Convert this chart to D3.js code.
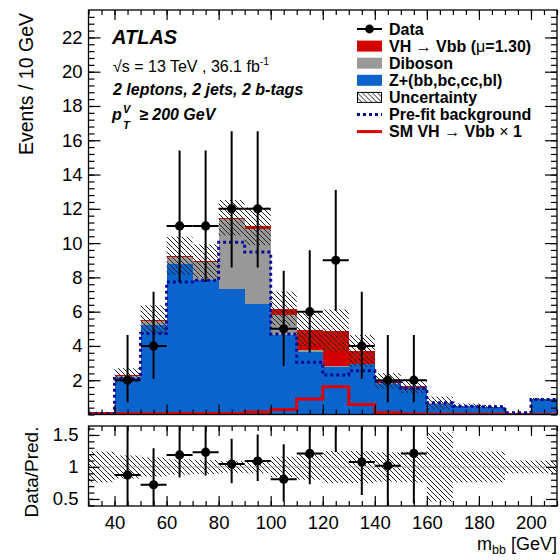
<!DOCTYPE html>
<html>
<head>
<meta charset="utf-8">
<script src="https://cdn.jsdelivr.net/npm/d3@7"></script>
<style>
  body { margin: 0; background: #fff; }
  svg { font-family: "Liberation Sans", Arial, Helvetica, sans-serif; }
</style>
</head>
<body>
<div id="chart"></div>
<script>
// bin lower edges (10 GeV bins)
const binLow = [30, 40, 50, 60, 70, 80, 90, 100, 110, 120, 130, 140, 150, 160, 170, 180, 190, 200];
// post-fit stack components
const zjets   = [0.05, 2.15, 5.25, 8.77, 7.87, 7.35, 6.45, 4.62, 3.65, 2.78, 2.95, 1.80, 1.58, 0.64, 0.50, 0.45, 0.10, 0.88];
const diboson = [0.02, 0.08, 0.22, 0.42, 1.00, 4.05, 4.35, 1.18, 0.13, 0.05, 0.02, 0.03, 0.03, 0.01, 0.00, 0.00, 0.00, 0.00];
const signal  = [0.06, 0.06, 0.07, 0.07, 0.07, 0.08, 0.18, 0.38, 1.17, 2.07, 0.74, 0.13, 0.04, 0.03, 0.02, 0.01, 0.00, 0.00];
// SM VH -> Vbb x 1 (line) and pre-fit background (dotted)
const smVH    = [0.05, 0.05, 0.05, 0.06, 0.06, 0.06, 0.15, 0.29, 0.90, 1.62, 0.58, 0.10, 0.03, 0.02, 0.02, 0.01, 0.00, 0.00];
const prefit  = [0.05, 2.10, 4.72, 7.73, 7.83, 10.05, 9.48, 4.70, 3.05, 2.30, 2.55, 1.90, 1.52, 0.68, 0.48, 0.45, 0.10, 0.88];
// relative uncertainty of the post-fit prediction
const relUnc  = [0.24, 0.18, 0.15, 0.12, 0.11, 0.09, 0.10, 0.16, 0.20, 0.25, 0.25, 0.23, 0.24, 0.54, 0.24, 0.24, 0.10, 0.10];

// data points
const dataX    = [45, 55, 65, 75, 85, 95, 105, 115, 125, 135, 145, 155];
const dataN    = [2, 4, 11, 11, 12, 12, 5, 6, 9, 4, 2, 2];
const dataLow  = [0.71, 2.08, 7.73, 7.73, 8.58, 8.58, 2.84, 3.62, 6.05, 2.08, 0.71, 0.71];
const dataHigh = [4.64, 7.16, 15.40, 15.40, 16.53, 16.53, 8.38, 9.58, 13.10, 7.16, 4.64, 4.64];

const xLabelTicks = [40, 60, 80, 100, 120, 140, 160, 180, 200];
const yMainTicks  = [2, 4, 6, 8, 10, 12, 14, 16, 18, 20, 22];
const yRatioTicks = [0.5, 1, 1.5];

const binWidth = 10;
const width = 560, height = 560;
const frame = { left: 88.5, right: 557 };
const mainPanel = { top: 10, bottom: 414.5 };
const ratioPanel = { top: 426, bottom: 506 };

const colors = {
    zjets: "#0a64cc",
    diboson: "#999999",
    signal: "#d40000",
    prefit: "#0a0a96",
    sm: "#e00000"
};

const svg = d3.select("#chart").append("svg")
    .attr("width", width)
    .attr("height", height);

const defs = svg.append("defs");
defs.append("pattern")
    .attr("id", "hatch")
    .attr("patternUnits", "userSpaceOnUse")
    .attr("width", 5)
    .attr("height", 5)
    .append("path")
    .attr("d", "M0,0 L5,5 M-1,4 L1,6 M4,-1 L6,1")
    .attr("stroke", "#222")
    .attr("stroke-width", 1);

defs.append("clipPath").attr("id", "clipMain")
    .append("rect")
    .attr("x", frame.left).attr("y", mainPanel.top)
    .attr("width", frame.right - frame.left).attr("height", mainPanel.bottom - mainPanel.top);
defs.append("clipPath").attr("id", "clipRatio")
    .append("rect")
    .attr("x", frame.left).attr("y", ratioPanel.top)
    .attr("width", frame.right - frame.left).attr("height", ratioPanel.bottom - ratioPanel.top);

const x = d3.scaleLinear().domain([30, 210]).range([frame.left, frame.right]);
const y = d3.scaleLinear().domain([0, 23.6]).range([mainPanel.bottom, mainPanel.top]);
const yR = d3.scaleLinear().domain([0.39, 1.64]).range([ratioPanel.bottom, ratioPanel.top]);

const bins = binLow.map((lo, i) => ({
    lo: lo,
    zjets: zjets[i],
    diboson: diboson[i],
    signal: signal[i],
    sm: smVH[i],
    prefit: prefit[i],
    rel: relUnc[i]
}));
bins.forEach(b => { b.total = b.zjets + b.diboson + b.signal; });

// ---- main panel ----
const main = svg.append("g").attr("clip-path", "url(#clipMain)");

const stack = d3.stack().keys(["zjets", "diboson", "signal"]);
const layers = stack(bins);

main.selectAll("g.layer")
    .data(layers)
    .enter()
    .append("g")
    .attr("class", "layer")
    .attr("fill", d => colors[d.key])
    .selectAll("rect")
    .data(d => d)
    .enter()
    .append("rect")
    .attr("shape-rendering", "crispEdges")
    .attr("x", d => x(d.data.lo))
    .attr("width", d => x(d.data.lo + binWidth) - x(d.data.lo))
    .attr("y", d => y(d[1]))
    .attr("height", d => Math.max(0, y(d[0]) - y(d[1])));

// uncertainty band
main.selectAll("rect.unc")
    .data(bins)
    .enter()
    .append("rect")
    .attr("class", "unc")
    .attr("x", d => x(d.lo))
    .attr("width", d => x(d.lo + binWidth) - x(d.lo))
    .attr("y", d => y(d.total * (1 + d.rel)))
    .attr("height", d => y(d.total * (1 - d.rel)) - y(d.total * (1 + d.rel)))
    .attr("fill", "url(#hatch)");

const stepLine = key => d3.line()
    .x(d => x(d.lo))
    .y(d => y(d[key]))
    .curve(d3.curveStepAfter);

const withEnd = bins.concat([Object.assign({}, bins[bins.length - 1], { lo: 210 })]);

main.append("path")
    .datum(withEnd)
    .attr("d", stepLine("sm"))
    .attr("fill", "none")
    .attr("stroke", colors.sm)
    .attr("stroke-width", 3);

main.append("path")
    .datum(withEnd)
    .attr("d", stepLine("prefit"))
    .attr("fill", "none")
    .attr("stroke", colors.prefit)
    .attr("stroke-width", 3)
    .attr("stroke-dasharray", "3,3");

const points = dataX.map((cx, i) => ({ x: cx, n: dataN[i], lo: dataLow[i], hi: dataHigh[i] }));

function drawPoints(g, pts, yScale, val, lo, hi) {
    const p = g.selectAll("g.pt").data(pts).enter().append("g").attr("class", "pt");
    p.append("line")
        .attr("x1", d => x(d.x)).attr("x2", d => x(d.x))
        .attr("y1", d => yScale(lo(d))).attr("y2", d => yScale(hi(d)))
        .attr("stroke", "#000").attr("stroke-width", 2);
    p.append("line")
        .attr("x1", d => x(d.x - binWidth / 2)).attr("x2", d => x(d.x + binWidth / 2))
        .attr("y1", d => yScale(val(d))).attr("y2", d => yScale(val(d)))
        .attr("stroke", "#000").attr("stroke-width", 2);
    p.append("circle")
        .attr("cx", d => x(d.x)).attr("cy", d => yScale(val(d)))
        .attr("r", 4.6).attr("fill", "#000");
}
drawPoints(main, points, y, d => d.n, d => d.lo, d => d.hi);

// ---- ratio panel ----
const ratio = svg.append("g").attr("clip-path", "url(#clipRatio)");

ratio.selectAll("rect.unc")
    .data(bins)
    .enter()
    .append("rect")
    .attr("x", d => x(d.lo))
    .attr("width", d => x(d.lo + binWidth) - x(d.lo))
    .attr("y", d => yR(1 + d.rel))
    .attr("height", d => yR(1 - d.rel) - yR(1 + d.rel))
    .attr("fill", "url(#hatch)");

ratio.append("line")
    .attr("x1", frame.left).attr("x2", frame.right)
    .attr("y1", yR(1)).attr("y2", yR(1))
    .attr("stroke", "#999").attr("stroke-width", 0.8);

const totalAt = cx => bins.find(b => b.lo === cx - binWidth / 2).total;
drawPoints(ratio, points, yR, d => d.n / totalAt(d.x), d => d.lo / totalAt(d.x), d => d.hi / totalAt(d.x));

// ---- axes ----
const minorX = d3.range(30, 211, 5);
const minorYMain = d3.range(0, 23.6, 0.4);
const minorYRatio = d3.range(0.4, 1.65, 0.1);

function addAxis(axis, tx, ty, withLabels) {
    const g = svg.append("g")
        .attr("transform", `translate(${tx},${ty})`)
        .call(axis);
    g.select(".domain").remove();
    g.selectAll(".tick line").attr("stroke", "#000").attr("stroke-width", 1.2);
    if (withLabels) {
        g.selectAll(".tick text").attr("font-size", 18.5).attr("fill", "#000");
    } else {
        g.selectAll(".tick text").remove();
    }
    return g;
}

[[mainPanel, 10, 5], [ratioPanel, 10, 5]].forEach(([panel, major, minor], idx) => {
    addAxis(d3.axisBottom(x).tickValues(xLabelTicks).tickSize(-major).tickPadding(10).tickFormat(d3.format("d")),
        0, panel.bottom, idx === 1);
    addAxis(d3.axisBottom(x).tickValues(minorX).tickSize(-minor), 0, panel.bottom, false);
    addAxis(d3.axisTop(x).tickValues(xLabelTicks).tickSize(-major), 0, panel.top, false);
    addAxis(d3.axisTop(x).tickValues(minorX).tickSize(-minor), 0, panel.top, false);
});

addAxis(d3.axisLeft(y).tickValues(yMainTicks).tickSize(-12).tickPadding(6).tickFormat(d3.format("d")), frame.left, 0, true);
addAxis(d3.axisLeft(y).tickValues(minorYMain).tickSize(-6), frame.left, 0, false);
addAxis(d3.axisRight(y).tickValues(yMainTicks).tickSize(-12), frame.right, 0, false);
addAxis(d3.axisRight(y).tickValues(minorYMain).tickSize(-6), frame.right, 0, false);

addAxis(d3.axisLeft(yR).tickValues(yRatioTicks).tickSize(-11).tickPadding(10).tickFormat(d3.format("")), frame.left, 0, true);
addAxis(d3.axisLeft(yR).tickValues(minorYRatio).tickSize(-6), frame.left, 0, false);
addAxis(d3.axisRight(yR).tickValues(yRatioTicks).tickSize(-11), frame.right, 0, false);
addAxis(d3.axisRight(yR).tickValues(minorYRatio).tickSize(-6), frame.right, 0, false);

// frames
[mainPanel, ratioPanel].forEach(panel => {
    svg.append("rect")
        .attr("x", frame.left).attr("y", panel.top)
        .attr("width", frame.right - frame.left).attr("height", panel.bottom - panel.top)
        .attr("fill", "none").attr("stroke", "#000").attr("stroke-width", 1.3);
});

// axis titles
svg.append("text")
    .attr("transform", `translate(33,${mainPanel.top + 3}) rotate(-90)`)
    .attr("text-anchor", "end")
    .attr("font-size", 19.5)
    .text("Events / 10 GeV");

svg.append("text")
    .attr("transform", `translate(38,${(ratioPanel.top + ratioPanel.bottom) / 2 + 6}) rotate(-90)`)
    .attr("text-anchor", "middle")
    .attr("font-size", 19)
    .text("Data/Pred.");

const xTitle = svg.append("text")
    .attr("x", 557).attr("y", 550)
    .attr("text-anchor", "end")
    .attr("font-size", 18);
xTitle.append("tspan").text("m");
xTitle.append("tspan").attr("font-size", 12.5).attr("dy", 4).text("bb");
xTitle.append("tspan").attr("dy", -4).text(" [GeV]");

// ---- labels ----
svg.append("text")
    .attr("x", 112).attr("y", 44)
    .attr("font-size", 20).attr("font-weight", "bold").attr("font-style", "italic")
    .text("ATLAS");

const energy = svg.append("text")
    .attr("x", 113).attr("y", 72)
    .attr("font-size", 16);
energy.append("tspan").text("\u221As = 13 TeV , 36.1 fb");
energy.append("tspan").attr("font-size", 10.5).attr("dy", -7).text("-1");

svg.append("text")
    .attr("x", 113).attr("y", 95)
    .attr("font-size", 16).attr("font-weight", "bold").attr("font-style", "italic")
    .text("2 leptons, 2 jets, 2 b-tags");

const ptGroup = svg.append("g")
    .attr("font-weight", "bold").attr("font-style", "italic");
ptGroup.append("text").attr("x", 112).attr("y", 120).attr("font-size", 16).text("p");
ptGroup.append("text").attr("x", 123).attr("y", 113).attr("font-size", 11).text("V");
ptGroup.append("text").attr("x", 123).attr("y", 129).attr("font-size", 11).text("T");
ptGroup.append("text").attr("x", 139).attr("y", 120).attr("font-size", 16).text("\u2265 200 GeV");

// ---- legend ----
const legendEntries = [
    { type: "data", label: ["Data"] },
    { type: "box", fill: colors.signal, label: ["VH ", { t: "\u2192", plain: true }, " Vbb (", { t: "\u03bc", plain: true }, "=1.30)"] },
    { type: "box", fill: colors.diboson, label: ["Diboson"] },
    { type: "box", fill: colors.zjets, label: ["Z+(bb,bc,cc,bl)"] },
    { type: "hatch", label: ["Uncertainty"] },
    { type: "dotted", label: ["Pre-fit background"] },
    { type: "line", label: ["SM VH ", { t: "\u2192", plain: true }, " Vbb ", { t: "\u00d7", plain: true }, " 1"] }
];

const legend = svg.append("g").attr("transform", "translate(357,29)");
const rowH = 17.1;
legendEntries.forEach((e, i) => {
    const g = legend.append("g").attr("transform", `translate(0,${i * rowH})`);
    if (e.type === "data") {
        g.append("line").attr("x1", 0).attr("x2", 25).attr("y1", 0).attr("y2", 0)
            .attr("stroke", "#000").attr("stroke-width", 2);
        g.append("circle").attr("cx", 12.5).attr("cy", 0).attr("r", 4.4).attr("fill", "#000");
    } else if (e.type === "box") {
        g.append("rect").attr("x", 0).attr("y", -5.5).attr("width", 25).attr("height", 11).attr("fill", e.fill);
    } else if (e.type === "hatch") {
        g.append("rect").attr("x", 0.5).attr("y", -5).attr("width", 24).attr("height", 10)
            .attr("fill", "url(#hatch)").attr("stroke", "#000").attr("stroke-width", 1);
    } else if (e.type === "dotted") {
        g.append("line").attr("x1", 0).attr("x2", 25).attr("y1", 0).attr("y2", 0)
            .attr("stroke", colors.prefit).attr("stroke-width", 3).attr("stroke-dasharray", "3,3");
    } else if (e.type === "line") {
        g.append("line").attr("x1", 0).attr("x2", 25).attr("y1", 0).attr("y2", 0)
            .attr("stroke", colors.sm).attr("stroke-width", 3);
    }
    const t = g.append("text").attr("x", 32).attr("y", 5.5)
        .attr("font-size", 16).attr("font-weight", "bold");
    e.label.forEach(part => {
        if (typeof part === "string") t.append("tspan").text(part);
        else t.append("tspan").attr("font-weight", "normal").text(part.t);
    });
});
</script>
</body>
</html>
